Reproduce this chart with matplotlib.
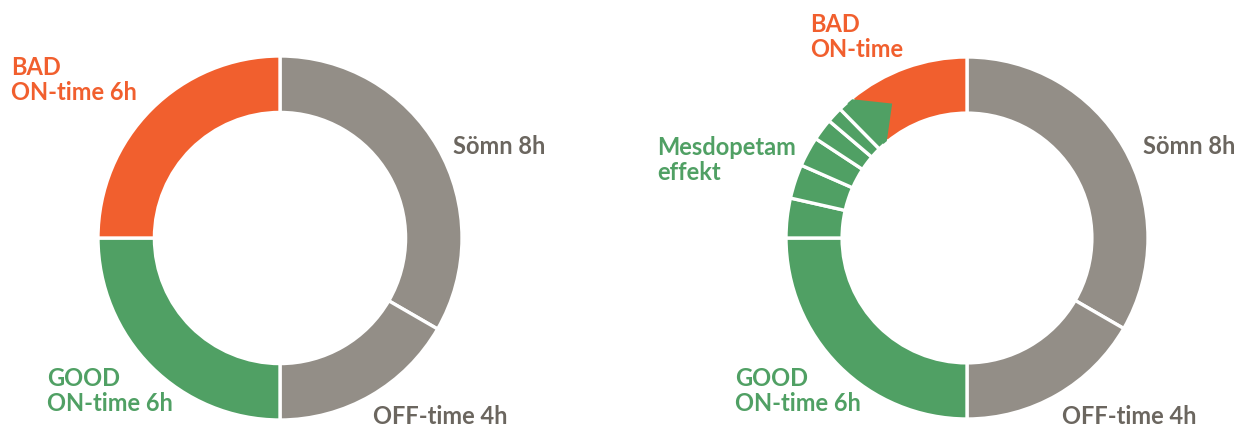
import matplotlib

matplotlib.use("Agg")
import numpy as np
import matplotlib.pyplot as plt
from matplotlib.patches import Polygon

W, H = 1245, 428
ORANGE = "#F15F2E"
GREEN = "#50A064"
GRAY = "#938E87"
TXT_GRAY = "#6B665F"

plt.rcParams["font.family"] = ["Lato", "DejaVu Sans"]

# hours per segment, clockwise from 12 o'clock
left_hours = [8, 4, 6, 6]
left_colors = [GRAY, GRAY, GREEN, ORANGE]

mesdopetam_hours = [0.85, 0.73, 0.64, 0.47, 0.34, 0.33]
right_hours = [8, 4, 6] + mesdopetam_hours + [2.64]
right_colors = [GRAY, GRAY, GREEN] + [GREEN] * len(mesdopetam_hours) + [ORANGE]

left_labels = ["Sömn 8h", "OFF-time 4h", "GOOD\nON-time 6h", "BAD\nON-time 6h"]
right_labels = ["Sömn 8h", "OFF-time 4h", "GOOD\nON-time 6h",
                "Mesdopetam\neffekt", "BAD\nON-time"]
label_colors = [TXT_GRAY, TXT_GRAY, GREEN, GREEN, ORANGE]

RING = 0.31


def donut_ax(fig, cx, cy, r):
    # square axes centred on (cx, cy) in pixels (y from top), radius 1 == r px
    lim = 1.1
    s = 2 * r * lim
    ax = fig.add_axes([(cx - s / 2) / W, (H - cy - s / 2) / H, s / W, s / H])
    return ax


def donut(ax, hours, colors):
    wedges, _ = ax.pie(hours, colors=colors, startangle=90, counterclock=False,
                       radius=1.0, frame=True,
                       wedgeprops=dict(width=RING, edgecolor="white", linewidth=2.4))
    ax.set_xlim(-1.1, 1.1)
    ax.set_ylim(-1.1, 1.1)
    ax.axis("off")
    return wedges


def label(fig, x, y, s, color):
    fig.text(x / W, 1 - y / H, s, color=color, fontsize=17, fontweight="bold",
             ha="left", va="center", linespacing=1.15)


def polar(r, deg):
    t = np.deg2rad(deg)
    return (r * np.cos(t), r * np.sin(t))


fig = plt.figure(figsize=(W / 100, H / 100), dpi=100)

axl = donut_ax(fig, 280, 238, 182)
donut(axl, left_hours, left_colors)
axr = donut_ax(fig, 967, 238, 181)
wr = donut(axr, right_hours, right_colors)

# the last effect slice pokes a little into the BAD slice, as in the original
b = wr[-2].theta1
r_in = 1 - RING
notch = [polar(0.995, b + 2), polar(0.995, b), polar(0.85, b - 10.5),
         polar(r_in + 0.005, b), polar(r_in + 0.005, b + 2)]
axr.add_patch(Polygon(notch, closed=True, facecolor=GREEN, edgecolor="none", zorder=5))

# label positions in pixels (x, y from top)
left_pos = [(453, 146), (373, 416), (47, 391), (11, 80)]
right_pos = [(1143, 146), (1062, 416), (735, 391), (657, 160), (810, 37)]
left_cols = [TXT_GRAY, TXT_GRAY, GREEN, ORANGE]

for s, (x, y), c in zip(left_labels, left_pos, left_cols):
    label(fig, x, y, s, c)
for s, (x, y), c in zip(right_labels, right_pos, label_colors):
    label(fig, x, y, s, c)

fig.savefig("out.png", dpi=100, facecolor="white")
